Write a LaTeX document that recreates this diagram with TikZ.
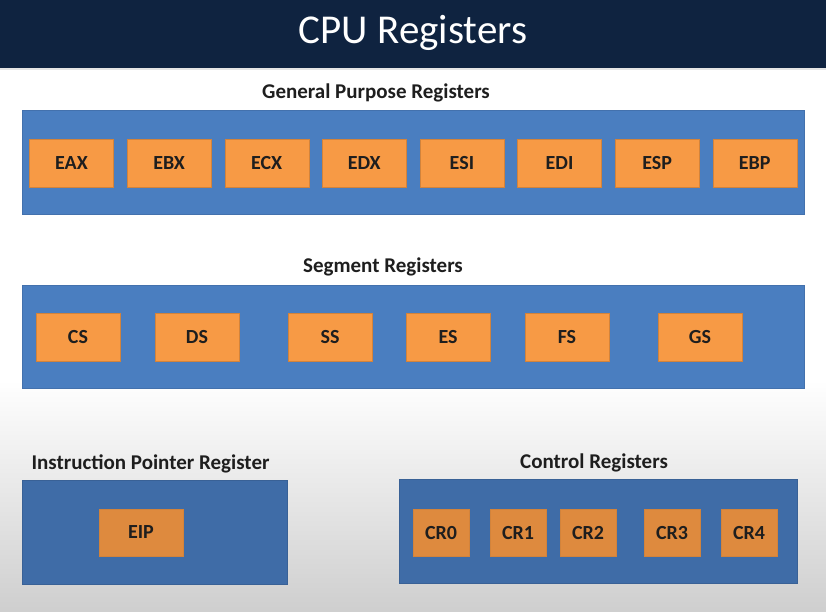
\documentclass[tikz,border=0pt]{standalone}
\usepackage{fontspec}
\setmainfont{Carlito}
\definecolor{titlebg}{HTML}{0F2340}
\definecolor{grpblue}{HTML}{4A7EC0}
\definecolor{grpbluedim}{HTML}{3F6CA7}
\definecolor{regorange}{HTML}{F79A45}
\definecolor{regorangedim}{HTML}{DE8A3E}
\definecolor{labelink}{HTML}{1E1E1E}
\begin{document}
\begin{tikzpicture}[
                            x=1pt, y=-1pt,
                            node distance=97.6pt,
                            group/.style={fill=grpblue, draw=grpblue!90!black, line width=0.4pt, inner sep=0pt},
                            reg/.style={fill=regorange, draw=regorange!85!black, line width=0.4pt, minimum width=84pt, minimum height=48pt, inner sep=0pt, font=\fontsize{20}{24}\selectfont\bfseries, text=labelink},
                            heading/.style={font=\fontsize{21}{25}\selectfont\bfseries, text=labelink, inner sep=0pt}
                            ]

                            \useasboundingbox (0,0) rectangle (826,611);
                            \fill[white] (0,0) rectangle (826,611);
                            \shade[top color=white, bottom color=black!19] (0,380) rectangle (826,611);
                            \fill[titlebg] (0,0) rectangle (826,68);
                            \fill[black!10] (0,68) rectangle (826,70);
                            \node[font=\fontsize{41}{49}\selectfont, text=white] (title) at (413,33) {CPU Registers};

                            \node [group, minimum width=782pt, minimum height=104pt] (gpr) at (413,162) {};
                            \node [heading] (gprlabel) at (376,93) {General Purpose Registers};
                            \node [reg] (eax) at (71.5,163) {EAX};
                            \node [reg, right of = eax] (ebx) {EBX};
                            \node [reg, right of = ebx] (ecx) {ECX};
                            \node [reg, right of = ecx] (edx) {EDX};
                            \node [reg, right of = edx] (esi) {ESI};
                            \node [reg, right of = esi] (edi) {EDI};
                            \node [reg, right of = edi] (esp) {ESP};
                            \node [reg, right of = esp] (ebp) {EBP};

                            \node [group, minimum width=782pt, minimum height=103pt] (seg) at (413,336.5) {};
                            \node [heading] (seglabel) at (383,267) {Segment Registers};
                            \node [reg] (cs) at (78,337) {CS};
                            \node [reg] (ds) at (197,337) {DS};
                            \node [reg] (ss) at (330,337) {SS};
                            \node [reg] (es) at (448,337) {ES};
                            \node [reg] (fs) at (567,337) {FS};
                            \node [reg] (gs) at (700,337) {GS};

                            \node [group, fill=grpbluedim, draw=grpbluedim!90!black, minimum width=265pt, minimum height=104pt] (ipr) at (154.5,532) {};
                            \node [heading] (iprlabel) at (150.5,464) {Instruction Pointer Register};
                            \node [reg, fill=regorangedim, minimum height=47pt] (eip) at (141,532.5) {EIP};

                            \node [group, fill=grpbluedim, draw=grpbluedim!90!black, minimum width=398pt, minimum height=104pt] (ctl) at (598,531) {};
                            \node [heading] (ctllabel) at (594,463) {Control Registers};
                            \node [reg, fill=regorangedim, minimum width=56pt, minimum height=47pt] (cr0) at (441,532.5) {CR0};
                            \node [reg, fill=regorangedim, minimum width=56pt, minimum height=47pt] (cr1) at (518,532.5) {CR1};
                            \node [reg, fill=regorangedim, minimum width=56pt, minimum height=47pt] (cr2) at (588,532.5) {CR2};
                            \node [reg, fill=regorangedim, minimum width=56pt, minimum height=47pt] (cr3) at (672,532.5) {CR3};
                            \node [reg, fill=regorangedim, minimum width=56pt, minimum height=47pt] (cr4) at (749,532.5) {CR4};
                        \end{tikzpicture}
\end{document}
